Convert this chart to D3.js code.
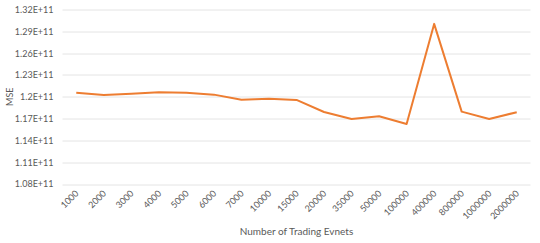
<!DOCTYPE html>
<html>
<head>
<meta charset="utf-8">
<script src="https://cdn.jsdelivr.net/npm/d3@7"></script>
<style>
  body { margin: 0; background: #fff; }
  text { font-family: Lato, "Open Sans", sans-serif; fill: #595959; }
</style>
</head>
<body>
<div class="chart"></div>
<script>
var categories = ["1000", "2000", "3000", "4000", "5000", "6000", "7000", "10000", "15000",
  "20000", "35000", "50000", "100000", "400000", "800000", "1000000", "2000000"];
var mse = [1.2056e11, 1.2025e11, 1.2040e11, 1.2062e11, 1.2056e11, 1.2029e11, 1.1960e11, 1.1974e11,
  1.1956e11, 1.1790e11, 1.1695e11, 1.1732e11, 1.1626e11, 1.3002e11, 1.1795e11, 1.1695e11, 1.1787e11];
var yTicks = [1.08e11, 1.11e11, 1.14e11, 1.17e11, 1.2e11, 1.23e11, 1.26e11, 1.29e11, 1.32e11];
var yTickLabels = ["1.08E+11", "1.11E+11", "1.14E+11", "1.17E+11", "1.2E+11", "1.23E+11", "1.26E+11", "1.29E+11", "1.32E+11"];

var svgWidth = 540;
var svgHeight = 243;
var margin = { top: 9.5, right: 9.5, bottom: 59, left: 62.5 };
var width = svgWidth - margin.left - margin.right;
var height = svgHeight - margin.top - margin.bottom;

var svg = d3.select(".chart")
  .append("svg")
  .attr("width", svgWidth)
  .attr("height", svgHeight);

var chart = svg.append("g")
  .attr("transform", "translate(" + margin.left + "," + margin.top + ")");

var x = d3.scaleBand().domain(categories).range([0, width]);
var y = d3.scaleLinear().domain([1.08e11, 1.32e11]).range([height, 0]);

// gridlines
chart.append("g")
  .selectAll("line")
  .data(yTicks)
  .enter().append("line")
  .attr("x1", 0)
  .attr("x2", width)
  .attr("y1", function(d) { return Math.round(y(d)) + 0.5; })
  .attr("y2", function(d) { return Math.round(y(d)) + 0.5; })
  .attr("stroke", "#e4e4e4")
  .attr("stroke-width", 1);

// y tick labels
var leftAxis = d3.axisLeft(y).tickValues(yTicks)
  .tickFormat(function(d, i) { return yTickLabels[i]; })
  .tickSize(0).tickPadding(9);
var yAxisG = chart.append("g").call(leftAxis);
yAxisG.select(".domain").remove();
yAxisG.selectAll("text").style("font-size", "9px").attr("fill", "#595959");

// x tick labels
var bottomAxis = d3.axisBottom(x).tickSize(0);
var xAxisG = chart.append("g")
  .attr("transform", "translate(0," + height + ")")
  .call(bottomAxis);
xAxisG.select(".domain").remove();
xAxisG.selectAll("text")
  .style("font-size", "9px")
  .attr("fill", "#595959")
  .attr("text-anchor", "end")
  .attr("dy", null)
  .attr("y", 0)
  .attr("transform", "translate(3,10) rotate(-45)");

// line
var line = d3.line()
  .x(function(d, i) { return x(categories[i]) + x.bandwidth() / 2; })
  .y(function(d) { return y(d); });

chart.append("path")
  .datum(mse)
  .attr("fill", "none")
  .attr("stroke", "#ED7D31")
  .attr("stroke-width", 2)
  .attr("stroke-linejoin", "round")
  .attr("d", line);

// axis titles
svg.append("text")
  .attr("transform", "translate(13," + (margin.top + y(1.2e11)) + ") rotate(-90)")
  .attr("text-anchor", "middle")
  .style("font-size", "9px")
  .text("MSE");

svg.append("text")
  .attr("x", margin.left + width / 2)
  .attr("y", 235)
  .attr("text-anchor", "middle")
  .style("font-size", "10px")
  .text("Number of Trading Evnets");
</script>
</body>
</html>
